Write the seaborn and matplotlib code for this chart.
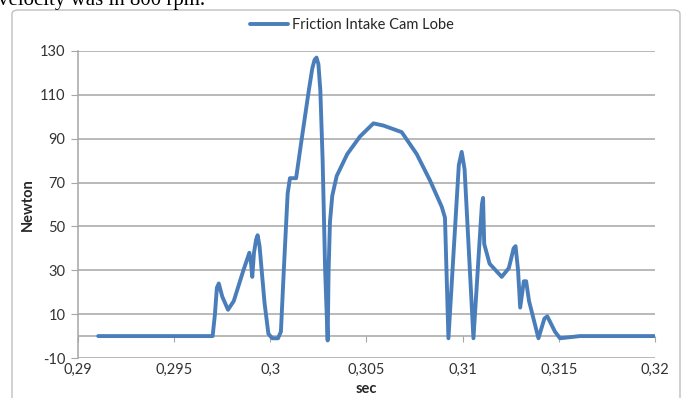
import pandas as pd
import seaborn as sns
import matplotlib.pyplot as plt
from matplotlib.patches import FancyBboxPatch

# Friction on the intake cam lobe
tempo = [0.29105, 0.29700, 0.29712, 0.29722, 0.29732, 0.29750, 0.29780, 0.29810,
         0.29860, 0.29891, 0.29900, 0.29906, 0.29915, 0.29926, 0.29934, 0.29944,
         0.29970, 0.29990, 0.30010, 0.30040, 0.30055, 0.30070, 0.30090, 0.30102,
         0.30134, 0.30160, 0.30200, 0.30218, 0.30230, 0.30240, 0.30250, 0.30260,
         0.30272, 0.30285, 0.30298, 0.30303, 0.30310, 0.30322, 0.30345, 0.30400,
         0.30466, 0.30536, 0.30588, 0.30683, 0.30761, 0.30830, 0.30891, 0.30908,
         0.30926, 0.30980, 0.30995, 0.31010, 0.31056, 0.31100, 0.31106, 0.31112,
         0.31140, 0.31203, 0.31240, 0.31265, 0.31275, 0.31288, 0.31299, 0.31318,
         0.31330, 0.31345, 0.31394, 0.31425, 0.31440, 0.31480, 0.31506, 0.31610,
         0.32000]
forca = [0, 0, 10, 22, 24, 18, 12, 16,
         30, 38, 33, 27, 38, 44, 46, 41,
         15, 1, -1, -1, 2, 30, 65, 72,
         72, 88, 112, 122, 126, 127, 124, 112,
         80, 30, -2, 30, 52, 64, 73, 83,
         91, 97, 96, 93, 83, 71, 59, 54,
         -1, 78, 84, 76, -1, 60, 63, 42,
         33, 27, 31, 40, 41, 30, 13, 25,
         25, 16, -1, 8, 9, 2, -1, 0,
         0]

x_ticks = [0.29, 0.295, 0.30, 0.305, 0.31, 0.315, 0.32]
x_labels = ['0,29', '0,295', '0,3', '0,305', '0,31', '0,315', '0,32']
y_ticks = [-10, 10, 30, 50, 70, 90, 110, 130]

df = pd.DataFrame({'sec': tempo, 'Newton': forca})

sns.set_style('white')
plt.rcParams['font.family'] = ['Lato', 'DejaVu Sans']
plt.rcParams['axes.unicode_minus'] = False

fig = plt.figure(figsize=(6.86, 3.98), dpi=100)
ax = fig.add_axes([78 / 686, 1 - 358 / 398, 577 / 686, 307 / 398])

sns.lineplot(data=df, x='sec', y='Newton', ax=ax, color='#4a7ebb',
             linewidth=2.8, estimator=None, sort=False,
             label='Friction Intake Cam Lobe')

ax.set_xlim(0.29, 0.32)
ax.set_ylim(-10, 130)
ax.set_yticks(y_ticks)
ax.set_xticks(x_ticks)
ax.set_xticklabels(x_labels)
ax.grid(axis='y', color='#a6a6a6', linewidth=1.1)
ax.grid(axis='x', visible=False)
ax.set_axisbelow(True)

# x axis crosses at 0, labels stay below the plot
ax.axhline(0, color='#a6a6a6', linewidth=1.1, zorder=0)
ax.spines['bottom'].set_position(('data', 0))
ax.spines['bottom'].set_visible(False)
ax.spines['top'].set_visible(False)
ax.spines['right'].set_visible(False)
ax.spines['left'].set_color('#a6a6a6')
ax.spines['left'].set_linewidth(1.1)
ax.tick_params(axis='x', length=4, color='#a6a6a6', pad=15,
               labelsize=10.5, labelcolor='#333333', direction='out', bottom=True)
ax.tick_params(axis='y', length=5, color='#a6a6a6', pad=4,
               labelsize=10.5, labelcolor='#333333', direction='out', left=True)

ax.set_xlabel('sec', fontsize=10.5, fontweight='bold', labelpad=4)
ax.set_ylabel('Newton', fontsize=10.5, fontweight='bold', labelpad=4)

leg = ax.legend(loc='center', bbox_to_anchor=(352 / 686, 1 - 25 / 398),
                bbox_transform=fig.transFigure, frameon=False, fontsize=10.5,
                handlelength=2.6, handletextpad=0.3)

# Excel chart area frame
frame = FancyBboxPatch((12 / 686, -0.1), 668 / 686, 1.1 - 10 / 398,
                       boxstyle='round,pad=0,rounding_size=0.01',
                       transform=fig.transFigure, facecolor='none',
                       edgecolor='#bfbfbf', linewidth=1.0)
fig.patches.append(frame)

# document text above the chart, cut by the page
fig.text(-2 / 686, 1 - 5 / 398, 'velocity was in 800 rpm.', family='Liberation Serif',
         fontsize=15, va='baseline', ha='left', color='black')

fig.savefig('out.png', dpi=100)
